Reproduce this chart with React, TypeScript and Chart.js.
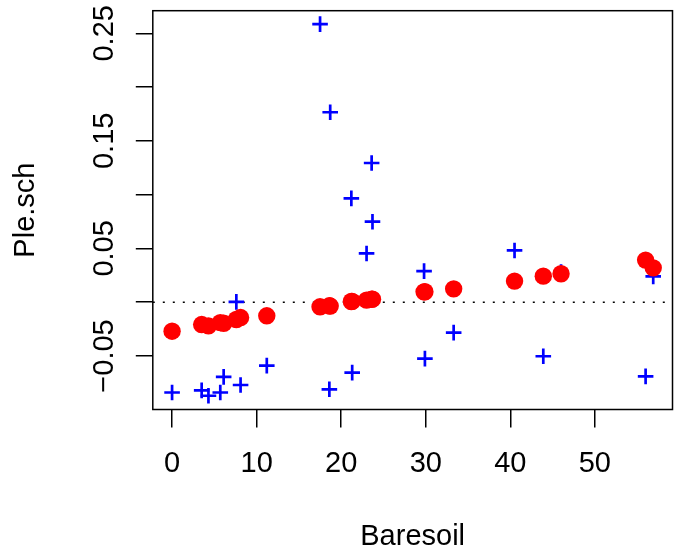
import React, { useEffect, useRef } from 'react';
import { Chart, registerables } from 'chart.js';

Chart.register(...registerables);

// Baresoil (x) for each site
const BARESOIL = [0.0, 3.5, 4.3, 5.7, 6.1, 7.6, 8.1, 11.2, 17.5, 18.7, 18.6, 21.2, 21.3, 23.0, 23.6, 23.7, 29.8, 29.9, 33.3, 40.5, 43.9, 46.0, 56.0, 56.9];
// Observed Ple.sch values (blue crosses)
const OBSERVED = [-0.084, -0.082, -0.087, -0.084, -0.0695, 0.0003, -0.077, -0.059, 0.2585, 0.1766, -0.081, 0.0965, -0.0655, 0.0453, 0.1294, 0.0748, 0.0289, -0.0525, -0.0283, 0.0481, -0.0503, 0.028, -0.069, 0.024];
// Fitted Ple.sch values (red circles)
const FITTED = [-0.027, -0.0208, -0.022, -0.019, -0.0196, -0.0161, -0.0143, -0.0127, -0.0043, -0.0036, -0.0034, 0.0006, 0.0007, 0.0019, 0.0027, 0.0028, 0.0096, 0.0097, 0.0124, 0.0196, 0.0242, 0.0264, 0.0391, 0.0319];

const X_TICKS = [0, 10, 20, 30, 40, 50];
const X_TICK_LABELS = ['0', '10', '20', '30', '40', '50'];
const Y_TICKS = [-0.05, 0, 0.05, 0.1, 0.15, 0.2, 0.25];
const Y_TICK_LABELS = ['\u22120.05', '', '0.05', '', '0.15', '', '0.25'];
const REF_LINE_Y = [0, 0];

const X_MIN = -2.28;
const X_MAX = 59.18;
const Y_MIN = -0.0998;
const Y_MAX = 0.271;

const FONT = "'Liberation Sans', Arial, Helvetica, sans-serif";

const framePlugin = {
  id: 'frame',
  afterDatasetsDraw(chart: any) {
    const { ctx, chartArea: a } = chart;
    ctx.save();
    ctx.strokeStyle = '#000';
    ctx.lineWidth = 1.5;
    ctx.strokeRect(a.left, a.top, a.right - a.left, a.bottom - a.top);
    ctx.restore();
  },
  afterDraw(chart: any) {
    const { ctx, chartArea: a, scales } = chart;
    const ys = scales.y;
    ctx.save();
    ctx.fillStyle = '#000';
    ctx.font = `29px ${FONT}`;
    ctx.textAlign = 'center';
    ctx.textBaseline = 'alphabetic';
    Y_TICKS.forEach((v, i) => {
      const label = Y_TICK_LABELS[i];
      if (!label) return;
      const py = ys.getPixelForValue(v);
      ctx.save();
      ctx.translate(a.left - 39.5, py);
      ctx.rotate(-Math.PI / 2);
      ctx.fillText(label, 0, 0);
      ctx.restore();
    });
    ctx.restore();
  },
};

export default function App() {
  const canvasRef = useRef<HTMLCanvasElement | null>(null);

  useEffect(() => {
    const canvas = canvasRef.current;
    if (!canvas) return;
    const fitted = BARESOIL.map((x, i) => ({ x, y: FITTED[i] }));
    const observed = BARESOIL.map((x, i) => ({ x, y: OBSERVED[i] }));
    const refLine = [X_MIN, X_MAX].map((x, i) => ({ x, y: REF_LINE_Y[i] }));

    const chart = new Chart(canvas, {
      type: 'scatter',
      data: {
        datasets: [
          {
            label: 'fitted',
            data: fitted,
            pointStyle: 'circle',
            pointRadius: 8.7,
            pointBackgroundColor: '#FF0000',
            pointBorderWidth: 0,
            showLine: false,
          },
          {
            label: 'observed',
            data: observed,
            pointStyle: 'cross',
            pointRadius: 7.8,
            pointBorderWidth: 2.7,
            pointBorderColor: '#0000FF',
            showLine: false,
          },
          {
            label: 'zero',
            data: refLine,
            showLine: true,
            pointRadius: 0,
            borderColor: '#000',
            borderWidth: 1.5,
            borderDash: [2, 8],
          } as any,
        ],
      },
      options: {
        animation: false,
        responsive: false,
        devicePixelRatio: 1,
        events: [],
        layout: { autoPadding: false, padding: { left: 0, top: 10.7, right: 679 - 672.5, bottom: 0 } },
        plugins: { legend: { display: false }, tooltip: { enabled: false } },
        scales: {
          x: {
            type: 'linear',
            position: 'bottom',
            min: X_MIN,
            max: X_MAX,
            afterBuildTicks: (s: any) => {
              s.ticks = X_TICKS.map((v) => ({ value: v }));
            },
            afterFit: (s: any) => {
              s.height = 551 - 409.5;
              s.paddingLeft = 0;
              s.paddingRight = 0;
            },
            grid: { drawOnChartArea: false, drawTicks: true, tickLength: 18, color: '#000', lineWidth: 1.5 },
            border: { display: false },
            ticks: {
              autoSkip: false,
              maxRotation: 0,
              minRotation: 0,
              padding: 19.5,
              color: '#000',
              font: { family: FONT, size: 29 },
              callback: (v: any) => {
                const i = X_TICKS.indexOf(Number(v));
                return i >= 0 ? X_TICK_LABELS[i] : '';
              },
            },
            title: {
              display: true,
              text: 'Baresoil',
              color: '#000',
              font: { family: FONT, size: 29, lineHeight: 1 },
              padding: { top: 0, bottom: 0 },
            },
          },
          y: {
            type: 'linear',
            position: 'left',
            min: Y_MIN,
            max: Y_MAX,
            afterBuildTicks: (s: any) => {
              s.ticks = Y_TICKS.map((v) => ({ value: v }));
            },
            afterFit: (s: any) => {
              s.width = 152.8;
              s.paddingTop = 0;
              s.paddingBottom = 0;
            },
            grid: { drawOnChartArea: false, drawTicks: true, tickLength: 17, color: '#000', lineWidth: 1.5 },
            border: { display: false },
            ticks: { display: false },
            title: {
              display: true,
              text: 'Ple.sch',
              color: '#000',
              font: { family: FONT, size: 29, lineHeight: 1 },
              padding: { top: 11.8, bottom: 0 },
            },
          },
        },
      },
      plugins: [framePlugin],
    });
    return () => chart.destroy();
  }, []);

  return (
    <div style={{ position: 'fixed', left: 0, top: 0, width: 679, height: 551, background: '#fff' }}>
      <canvas ref={canvasRef} width={679} height={551} style={{ display: 'block' }} />
    </div>
  );
}
